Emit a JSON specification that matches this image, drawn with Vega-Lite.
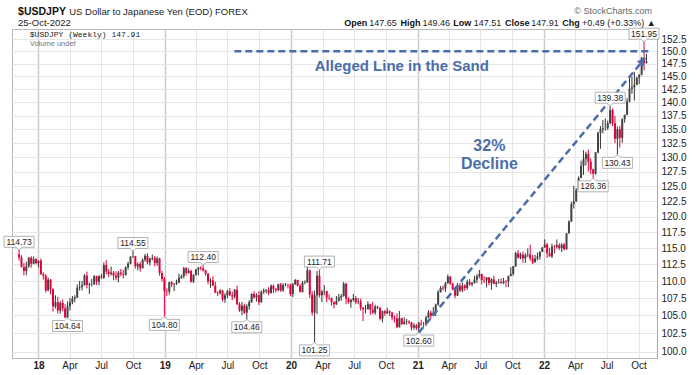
{
"$schema":"https://vega.github.io/schema/vega-lite/v6.json",
"width":645,"height":329,
"autosize":{"type":"none"},
"padding":{"left":12,"top":29,"right":43,"bottom":17},
"background":"#ffffff",
"config":{"font":"Liberation Sans","view":{"stroke":"#b8b8b8","strokeWidth":1}},
"datasets":{
"candles":[
{"d":"2017-11-06","o":114.05,"h":114.73,"l":113.09,"c":113.53},
{"d":"2017-11-13","o":113.53,"h":113.9,"l":112.03,"c":112.1},
{"d":"2017-11-20","o":112.1,"h":112.7,"l":110.84,"c":111.5},
{"d":"2017-11-27","o":111.5,"h":112.9,"l":110.85,"c":112.2},
{"d":"2017-12-04","o":112.2,"h":113.6,"l":112.0,"c":113.5},
{"d":"2017-12-11","o":113.5,"h":113.75,"l":112.0,"c":112.6},
{"d":"2017-12-18","o":112.6,"h":113.7,"l":112.5,"c":113.3},
{"d":"2017-12-25","o":113.3,"h":113.4,"l":112.5,"c":112.7},
{"d":"2018-01-01","o":112.7,"h":113.1,"l":112.05,"c":113.05},
{"d":"2018-01-08","o":113.05,"h":113.4,"l":110.9,"c":111.05},
{"d":"2018-01-15","o":111.05,"h":111.3,"l":110.2,"c":110.8},
{"d":"2018-01-22","o":110.8,"h":111.0,"l":108.28,"c":108.6},
{"d":"2018-01-29","o":108.6,"h":110.5,"l":108.5,"c":110.2},
{"d":"2018-02-05","o":110.2,"h":110.3,"l":108.05,"c":108.8},
{"d":"2018-02-12","o":108.8,"h":108.9,"l":105.55,"c":106.3},
{"d":"2018-02-19","o":106.3,"h":107.9,"l":106.0,"c":106.9},
{"d":"2018-02-26","o":106.9,"h":107.7,"l":105.25,"c":105.7},
{"d":"2018-03-05","o":105.7,"h":107.05,"l":105.25,"c":106.8},
{"d":"2018-03-12","o":106.8,"h":107.3,"l":105.6,"c":106.0},
{"d":"2018-03-19","o":106.0,"h":106.6,"l":104.65,"c":104.7},
{"d":"2018-03-26","o":104.7,"h":107.0,"l":104.64,"c":106.3},
{"d":"2018-04-02","o":106.3,"h":107.5,"l":105.7,"c":106.9},
{"d":"2018-04-09","o":106.9,"h":107.8,"l":106.6,"c":107.4},
{"d":"2018-04-16","o":107.4,"h":107.9,"l":106.9,"c":107.6},
{"d":"2018-04-23","o":107.6,"h":109.5,"l":107.5,"c":109.0},
{"d":"2018-04-30","o":109.0,"h":110.0,"l":108.6,"c":109.1},
{"d":"2018-05-07","o":109.1,"h":110.0,"l":108.6,"c":109.4},
{"d":"2018-05-14","o":109.4,"h":111.05,"l":109.3,"c":110.8},
{"d":"2018-05-21","o":110.8,"h":111.4,"l":108.9,"c":109.4},
{"d":"2018-05-28","o":109.4,"h":109.8,"l":108.1,"c":109.5},
{"d":"2018-06-04","o":109.5,"h":110.3,"l":109.2,"c":109.55},
{"d":"2018-06-11","o":109.55,"h":110.9,"l":109.4,"c":110.7},
{"d":"2018-06-18","o":110.7,"h":110.8,"l":109.4,"c":109.9},
{"d":"2018-06-25","o":109.9,"h":110.9,"l":109.4,"c":110.7},
{"d":"2018-07-02","o":110.7,"h":111.1,"l":110.3,"c":110.5},
{"d":"2018-07-09","o":110.5,"h":112.8,"l":110.3,"c":112.4},
{"d":"2018-07-16","o":112.4,"h":113.18,"l":111.0,"c":111.4},
{"d":"2018-07-23","o":111.4,"h":111.8,"l":110.6,"c":111.05},
{"d":"2018-07-30","o":111.05,"h":112.15,"l":110.8,"c":111.25},
{"d":"2018-08-06","o":111.25,"h":111.5,"l":110.1,"c":110.8},
{"d":"2018-08-13","o":110.8,"h":111.45,"l":110.1,"c":110.5},
{"d":"2018-08-20","o":110.5,"h":111.5,"l":109.8,"c":111.25},
{"d":"2018-08-27","o":111.25,"h":111.8,"l":110.7,"c":111.05},
{"d":"2018-09-03","o":111.05,"h":111.7,"l":110.4,"c":110.95},
{"d":"2018-09-10","o":110.95,"h":112.2,"l":110.8,"c":112.05},
{"d":"2018-09-17","o":112.05,"h":112.9,"l":111.7,"c":112.6},
{"d":"2018-09-24","o":112.6,"h":113.7,"l":112.5,"c":113.7},
{"d":"2018-10-01","o":113.7,"h":114.55,"l":113.5,"c":113.75},
{"d":"2018-10-08","o":113.75,"h":113.8,"l":111.85,"c":112.2},
{"d":"2018-10-15","o":112.2,"h":112.8,"l":111.6,"c":112.55},
{"d":"2018-10-22","o":112.55,"h":112.9,"l":111.38,"c":111.9},
{"d":"2018-10-29","o":111.9,"h":113.4,"l":111.9,"c":113.2},
{"d":"2018-11-05","o":113.2,"h":114.1,"l":112.9,"c":113.8},
{"d":"2018-11-12","o":113.8,"h":114.2,"l":112.5,"c":112.8},
{"d":"2018-11-19","o":112.8,"h":113.5,"l":112.3,"c":113.4},
{"d":"2018-11-26","o":113.4,"h":114.0,"l":113.1,"c":113.5},
{"d":"2018-12-03","o":113.5,"h":113.8,"l":112.2,"c":112.7},
{"d":"2018-12-10","o":112.7,"h":113.7,"l":112.3,"c":113.4},
{"d":"2018-12-17","o":113.4,"h":113.5,"l":110.8,"c":111.2},
{"d":"2018-12-24","o":111.2,"h":111.5,"l":109.9,"c":110.3},
{"d":"2018-12-31","o":110.3,"h":110.6,"l":104.8,"c":108.5},
{"d":"2019-01-07","o":108.5,"h":108.9,"l":107.8,"c":108.45},
{"d":"2019-01-14","o":108.45,"h":109.9,"l":108.0,"c":109.8},
{"d":"2019-01-21","o":109.8,"h":110.0,"l":109.1,"c":109.5},
{"d":"2019-01-28","o":109.5,"h":109.7,"l":108.5,"c":109.55},
{"d":"2019-02-04","o":109.55,"h":110.2,"l":109.4,"c":109.75},
{"d":"2019-02-11","o":109.75,"h":111.1,"l":109.7,"c":110.5},
{"d":"2019-02-18","o":110.5,"h":110.95,"l":110.3,"c":110.7},
{"d":"2019-02-25","o":110.7,"h":112.1,"l":110.4,"c":111.9},
{"d":"2019-03-04","o":111.9,"h":112.1,"l":110.8,"c":111.2},
{"d":"2019-03-11","o":111.2,"h":111.9,"l":111.1,"c":111.5},
{"d":"2019-03-18","o":111.5,"h":111.7,"l":109.75,"c":109.9},
{"d":"2019-03-25","o":109.9,"h":111.0,"l":109.7,"c":110.9},
{"d":"2019-04-01","o":110.9,"h":111.8,"l":110.8,"c":111.7},
{"d":"2019-04-08","o":111.7,"h":112.1,"l":110.85,"c":112.0},
{"d":"2019-04-15","o":112.0,"h":112.2,"l":111.6,"c":111.9},
{"d":"2019-04-22","o":111.9,"h":112.4,"l":111.4,"c":111.6},
{"d":"2019-04-29","o":111.6,"h":111.7,"l":110.8,"c":111.1},
{"d":"2019-05-06","o":111.1,"h":111.2,"l":109.5,"c":109.95},
{"d":"2019-05-13","o":109.95,"h":110.4,"l":109.0,"c":110.1},
{"d":"2019-05-20","o":110.1,"h":110.7,"l":109.3,"c":109.3},
{"d":"2019-05-27","o":109.3,"h":109.9,"l":108.2,"c":108.3},
{"d":"2019-06-03","o":108.3,"h":108.5,"l":107.8,"c":108.2},
{"d":"2019-06-10","o":108.2,"h":108.8,"l":108.0,"c":108.6},
{"d":"2019-06-17","o":108.6,"h":108.7,"l":107.0,"c":107.3},
{"d":"2019-06-24","o":107.3,"h":108.2,"l":106.8,"c":107.9},
{"d":"2019-07-01","o":107.9,"h":108.7,"l":107.5,"c":108.5},
{"d":"2019-07-08","o":108.5,"h":108.95,"l":107.8,"c":107.9},
{"d":"2019-07-15","o":107.9,"h":108.4,"l":107.2,"c":107.7},
{"d":"2019-07-22","o":107.7,"h":108.8,"l":107.4,"c":108.7},
{"d":"2019-07-29","o":108.7,"h":109.3,"l":106.5,"c":106.6},
{"d":"2019-08-05","o":106.6,"h":106.9,"l":105.5,"c":105.7},
{"d":"2019-08-12","o":105.7,"h":106.95,"l":105.05,"c":106.4},
{"d":"2019-08-19","o":106.4,"h":106.7,"l":105.2,"c":105.4},
{"d":"2019-08-26","o":105.4,"h":106.6,"l":104.46,"c":106.3},
{"d":"2019-09-02","o":106.3,"h":107.2,"l":105.8,"c":106.9},
{"d":"2019-09-09","o":106.9,"h":108.2,"l":106.8,"c":108.1},
{"d":"2019-09-16","o":108.1,"h":108.5,"l":107.4,"c":107.6},
{"d":"2019-09-23","o":107.6,"h":108.2,"l":107.0,"c":107.9},
{"d":"2019-09-30","o":107.9,"h":108.5,"l":106.5,"c":106.9},
{"d":"2019-10-07","o":106.9,"h":108.6,"l":106.8,"c":108.4},
{"d":"2019-10-14","o":108.4,"h":108.9,"l":108.1,"c":108.6},
{"d":"2019-10-21","o":108.6,"h":108.8,"l":108.2,"c":108.7},
{"d":"2019-10-28","o":108.7,"h":109.1,"l":107.9,"c":108.2},
{"d":"2019-11-04","o":108.2,"h":109.5,"l":108.2,"c":109.3},
{"d":"2019-11-11","o":109.3,"h":109.5,"l":108.2,"c":108.8},
{"d":"2019-11-18","o":108.8,"h":109.0,"l":108.3,"c":108.65},
{"d":"2019-11-25","o":108.65,"h":109.6,"l":108.5,"c":109.5},
{"d":"2019-12-02","o":109.5,"h":109.7,"l":108.4,"c":108.6},
{"d":"2019-12-09","o":108.6,"h":109.7,"l":108.4,"c":109.4},
{"d":"2019-12-16","o":109.4,"h":109.7,"l":109.2,"c":109.45},
{"d":"2019-12-23","o":109.45,"h":109.6,"l":108.9,"c":109.4},
{"d":"2019-12-30","o":109.4,"h":109.6,"l":107.8,"c":108.1},
{"d":"2020-01-06","o":108.1,"h":109.7,"l":107.65,"c":109.5},
{"d":"2020-01-13","o":109.5,"h":110.3,"l":109.4,"c":110.15},
{"d":"2020-01-20","o":110.15,"h":110.2,"l":109.2,"c":109.3},
{"d":"2020-01-27","o":109.3,"h":109.5,"l":108.3,"c":108.4},
{"d":"2020-02-03","o":108.4,"h":110.0,"l":108.3,"c":109.75},
{"d":"2020-02-10","o":109.75,"h":110.1,"l":109.5,"c":109.8},
{"d":"2020-02-17","o":109.8,"h":112.23,"l":109.7,"c":111.6},
{"d":"2020-02-24","o":111.6,"h":111.7,"l":107.5,"c":108.0},
{"d":"2020-03-02","o":108.0,"h":108.5,"l":105.0,"c":105.4},
{"d":"2020-03-09","o":105.4,"h":108.6,"l":101.25,"c":107.9},
{"d":"2020-03-16","o":107.9,"h":111.5,"l":105.2,"c":110.8},
{"d":"2020-03-23","o":110.8,"h":111.71,"l":107.6,"c":107.9},
{"d":"2020-03-30","o":107.9,"h":108.7,"l":106.9,"c":108.45},
{"d":"2020-04-06","o":108.45,"h":109.4,"l":107.9,"c":108.5},
{"d":"2020-04-13","o":108.5,"h":108.55,"l":106.9,"c":107.55},
{"d":"2020-04-20","o":107.55,"h":108.05,"l":107.2,"c":107.5},
{"d":"2020-04-27","o":107.5,"h":107.6,"l":106.4,"c":106.9},
{"d":"2020-05-04","o":106.9,"h":107.0,"l":106.0,"c":106.6},
{"d":"2020-05-11","o":106.6,"h":107.8,"l":106.5,"c":107.1},
{"d":"2020-05-18","o":107.1,"h":108.1,"l":107.0,"c":107.6},
{"d":"2020-05-25","o":107.6,"h":108.1,"l":107.1,"c":107.8},
{"d":"2020-06-01","o":107.8,"h":109.85,"l":107.7,"c":109.6},
{"d":"2020-06-08","o":109.6,"h":109.7,"l":106.6,"c":107.4},
{"d":"2020-06-15","o":107.4,"h":107.6,"l":106.7,"c":106.9},
{"d":"2020-06-22","o":106.9,"h":107.4,"l":106.1,"c":107.2},
{"d":"2020-06-29","o":107.2,"h":108.1,"l":107.0,"c":107.5},
{"d":"2020-07-06","o":107.5,"h":107.8,"l":106.6,"c":106.9},
{"d":"2020-07-13","o":106.9,"h":107.5,"l":106.6,"c":107.0},
{"d":"2020-07-20","o":107.0,"h":107.4,"l":105.7,"c":106.1},
{"d":"2020-07-27","o":106.1,"h":106.2,"l":104.2,"c":105.9},
{"d":"2020-08-03","o":105.9,"h":106.5,"l":105.3,"c":105.95},
{"d":"2020-08-10","o":105.95,"h":107.05,"l":105.8,"c":106.6},
{"d":"2020-08-17","o":106.6,"h":106.7,"l":105.1,"c":105.8},
{"d":"2020-08-24","o":105.8,"h":106.95,"l":105.2,"c":105.4},
{"d":"2020-08-31","o":105.4,"h":106.55,"l":105.1,"c":106.25},
{"d":"2020-09-07","o":106.25,"h":106.4,"l":105.9,"c":106.1},
{"d":"2020-09-14","o":106.1,"h":106.15,"l":104.3,"c":104.55},
{"d":"2020-09-21","o":104.55,"h":105.7,"l":104.0,"c":105.6},
{"d":"2020-09-28","o":105.6,"h":105.8,"l":104.95,"c":105.3},
{"d":"2020-10-05","o":105.3,"h":106.1,"l":105.2,"c":105.6},
{"d":"2020-10-12","o":105.6,"h":105.75,"l":104.9,"c":105.4},
{"d":"2020-10-19","o":105.4,"h":105.5,"l":104.3,"c":104.7},
{"d":"2020-10-26","o":104.7,"h":105.0,"l":104.0,"c":104.6},
{"d":"2020-11-02","o":104.6,"h":105.3,"l":103.2,"c":103.35},
{"d":"2020-11-09","o":103.35,"h":105.65,"l":103.3,"c":104.6},
{"d":"2020-11-16","o":104.6,"h":104.7,"l":103.65,"c":103.8},
{"d":"2020-11-23","o":103.8,"h":104.75,"l":103.7,"c":104.1},
{"d":"2020-11-30","o":104.1,"h":104.5,"l":103.7,"c":104.15},
{"d":"2020-12-07","o":104.15,"h":104.3,"l":103.8,"c":104.0},
{"d":"2020-12-14","o":104.0,"h":104.1,"l":102.9,"c":103.3},
{"d":"2020-12-21","o":103.3,"h":103.9,"l":103.0,"c":103.6},
{"d":"2020-12-28","o":103.6,"h":103.8,"l":102.95,"c":103.25},
{"d":"2021-01-04","o":103.25,"h":104.1,"l":102.6,"c":103.95},
{"d":"2021-01-11","o":103.95,"h":104.4,"l":103.5,"c":103.85},
{"d":"2021-01-18","o":103.85,"h":104.1,"l":103.3,"c":103.8},
{"d":"2021-01-25","o":103.8,"h":104.95,"l":103.5,"c":104.7},
{"d":"2021-02-01","o":104.7,"h":105.75,"l":104.6,"c":105.4},
{"d":"2021-02-08","o":105.4,"h":105.7,"l":104.5,"c":104.95},
{"d":"2021-02-15","o":104.95,"h":106.2,"l":104.9,"c":105.4},
{"d":"2021-02-22","o":105.4,"h":106.7,"l":104.9,"c":106.55},
{"d":"2021-03-01","o":106.55,"h":108.65,"l":106.4,"c":108.35},
{"d":"2021-03-08","o":108.35,"h":109.25,"l":108.3,"c":109.0},
{"d":"2021-03-15","o":109.0,"h":109.35,"l":108.6,"c":108.9},
{"d":"2021-03-22","o":108.9,"h":109.85,"l":108.4,"c":109.65},
{"d":"2021-03-29","o":109.65,"h":110.97,"l":109.6,"c":110.65},
{"d":"2021-04-05","o":110.65,"h":110.7,"l":109.4,"c":109.65},
{"d":"2021-04-12","o":109.65,"h":109.75,"l":108.6,"c":108.8},
{"d":"2021-04-19","o":108.8,"h":108.95,"l":107.48,"c":107.85},
{"d":"2021-04-26","o":107.85,"h":109.7,"l":107.8,"c":109.3},
{"d":"2021-05-03","o":109.3,"h":109.7,"l":108.35,"c":108.6},
{"d":"2021-05-10","o":108.6,"h":109.8,"l":108.35,"c":109.35},
{"d":"2021-05-17","o":109.35,"h":109.5,"l":108.55,"c":108.95},
{"d":"2021-05-24","o":108.95,"h":110.2,"l":108.7,"c":109.85},
{"d":"2021-05-31","o":109.85,"h":110.3,"l":109.3,"c":109.5},
{"d":"2021-06-07","o":109.5,"h":109.85,"l":109.2,"c":109.7},
{"d":"2021-06-14","o":109.7,"h":110.8,"l":109.6,"c":110.2},
{"d":"2021-06-21","o":110.2,"h":111.0,"l":109.7,"c":110.75},
{"d":"2021-06-28","o":110.75,"h":111.66,"l":110.4,"c":111.05},
{"d":"2021-07-05","o":111.05,"h":111.1,"l":109.5,"c":110.15},
{"d":"2021-07-12","o":110.15,"h":110.7,"l":109.7,"c":110.1},
{"d":"2021-07-19","o":110.1,"h":110.6,"l":109.05,"c":110.55},
{"d":"2021-07-26","o":110.55,"h":110.6,"l":109.35,"c":109.7},
{"d":"2021-08-02","o":109.7,"h":110.4,"l":108.7,"c":110.25},
{"d":"2021-08-09","o":110.25,"h":110.8,"l":109.5,"c":109.6},
{"d":"2021-08-16","o":109.6,"h":110.0,"l":109.1,"c":109.8},
{"d":"2021-08-23","o":109.8,"h":110.3,"l":109.6,"c":109.85},
{"d":"2021-08-30","o":109.85,"h":110.4,"l":109.6,"c":109.7},
{"d":"2021-09-06","o":109.7,"h":110.45,"l":109.55,"c":109.95},
{"d":"2021-09-13","o":109.95,"h":110.15,"l":109.1,"c":109.9},
{"d":"2021-09-20","o":109.9,"h":110.8,"l":109.1,"c":110.75},
{"d":"2021-09-27","o":110.75,"h":112.08,"l":110.7,"c":111.05},
{"d":"2021-10-04","o":111.05,"h":112.25,"l":110.8,"c":112.2},
{"d":"2021-10-11","o":112.2,"h":114.45,"l":112.1,"c":114.2},
{"d":"2021-10-18","o":114.2,"h":114.7,"l":113.4,"c":113.5},
{"d":"2021-10-25","o":113.5,"h":114.3,"l":113.3,"c":114.0},
{"d":"2021-11-01","o":114.0,"h":114.45,"l":112.75,"c":113.4},
{"d":"2021-11-08","o":113.4,"h":114.2,"l":112.7,"c":113.9},
{"d":"2021-11-15","o":113.9,"h":114.95,"l":113.6,"c":114.0},
{"d":"2021-11-22","o":114.0,"h":115.52,"l":113.05,"c":113.4},
{"d":"2021-11-29","o":113.4,"h":113.95,"l":112.55,"c":112.8},
{"d":"2021-12-06","o":112.8,"h":113.95,"l":112.8,"c":113.4},
{"d":"2021-12-13","o":113.4,"h":114.3,"l":113.1,"c":113.7},
{"d":"2021-12-20","o":113.7,"h":114.5,"l":113.2,"c":114.4},
{"d":"2021-12-27","o":114.4,"h":115.15,"l":114.4,"c":115.1},
{"d":"2022-01-03","o":115.1,"h":116.35,"l":115.05,"c":115.55},
{"d":"2022-01-10","o":115.55,"h":115.85,"l":113.5,"c":114.2},
{"d":"2022-01-17","o":114.2,"h":115.05,"l":113.7,"c":113.7},
{"d":"2022-01-24","o":113.7,"h":115.7,"l":113.47,"c":115.25},
{"d":"2022-01-31","o":115.25,"h":115.5,"l":114.15,"c":115.2},
{"d":"2022-02-07","o":115.2,"h":116.35,"l":114.9,"c":115.45},
{"d":"2022-02-14","o":115.45,"h":115.75,"l":114.7,"c":115.0},
{"d":"2022-02-21","o":115.0,"h":115.75,"l":114.4,"c":115.55},
{"d":"2022-02-28","o":115.55,"h":115.8,"l":114.65,"c":114.8},
{"d":"2022-03-07","o":114.8,"h":117.35,"l":114.8,"c":117.3},
{"d":"2022-03-14","o":117.3,"h":119.4,"l":117.3,"c":119.2},
{"d":"2022-03-21","o":119.2,"h":122.4,"l":119.1,"c":122.05},
{"d":"2022-03-28","o":122.05,"h":125.1,"l":121.3,"c":122.5},
{"d":"2022-04-04","o":122.5,"h":124.7,"l":122.4,"c":124.35},
{"d":"2022-04-11","o":124.35,"h":126.7,"l":124.3,"c":126.4},
{"d":"2022-04-18","o":126.4,"h":129.4,"l":126.4,"c":128.5},
{"d":"2022-04-25","o":128.5,"h":131.25,"l":126.95,"c":129.7},
{"d":"2022-05-02","o":129.7,"h":131.0,"l":128.6,"c":130.6},
{"d":"2022-05-09","o":130.6,"h":131.35,"l":127.5,"c":129.2},
{"d":"2022-05-16","o":129.2,"h":129.8,"l":127.05,"c":127.9},
{"d":"2022-05-23","o":127.9,"h":128.0,"l":126.36,"c":127.15},
{"d":"2022-05-30","o":127.15,"h":130.95,"l":127.0,"c":130.85},
{"d":"2022-06-06","o":130.85,"h":134.55,"l":130.7,"c":134.4},
{"d":"2022-06-13","o":134.4,"h":135.6,"l":131.5,"c":135.0},
{"d":"2022-06-20","o":135.0,"h":136.7,"l":134.25,"c":135.2},
{"d":"2022-06-27","o":135.2,"h":137.0,"l":134.75,"c":135.2},
{"d":"2022-07-04","o":135.2,"h":136.6,"l":134.9,"c":136.1},
{"d":"2022-07-11","o":136.1,"h":139.38,"l":135.95,"c":138.55},
{"d":"2022-07-18","o":138.55,"h":138.85,"l":135.6,"c":136.1},
{"d":"2022-07-25","o":136.1,"h":137.45,"l":132.5,"c":133.3},
{"d":"2022-08-01","o":133.3,"h":135.5,"l":130.43,"c":135.0},
{"d":"2022-08-08","o":135.0,"h":135.6,"l":131.7,"c":133.45},
{"d":"2022-08-15","o":133.45,"h":137.0,"l":132.55,"c":136.9},
{"d":"2022-08-22","o":136.9,"h":137.7,"l":136.2,"c":137.65},
{"d":"2022-08-29","o":137.65,"h":140.8,"l":137.6,"c":140.2},
{"d":"2022-09-05","o":140.2,"h":144.99,"l":140.0,"c":142.6},
{"d":"2022-09-12","o":142.6,"h":144.95,"l":141.65,"c":142.9},
{"d":"2022-09-19","o":142.9,"h":145.9,"l":140.35,"c":143.35},
{"d":"2022-09-26","o":143.35,"h":144.9,"l":143.3,"c":144.75},
{"d":"2022-10-03","o":144.75,"h":145.45,"l":143.5,"c":145.3},
{"d":"2022-10-10","o":145.3,"h":148.86,"l":145.2,"c":148.7},
{"d":"2022-10-17","o":148.7,"h":151.95,"l":146.23,"c":147.65},
{"d":"2022-10-24","o":147.65,"h":149.46,"l":147.51,"c":147.91}
],
"hiLabels":[
{"d":"2017-11-06","p":114.73,"t":"114.73"},
{"d":"2018-10-01","p":114.55,"t":"114.55"},
{"d":"2019-04-22","p":112.4,"t":"112.40"},
{"d":"2020-03-23","p":111.71,"t":"111.71"},
{"d":"2022-07-11","p":139.38,"t":"139.38"},
{"d":"2022-10-17","p":151.95,"t":"151.95"}
],
"loLabels":[
{"d":"2018-03-26","p":104.64,"t":"104.64"},
{"d":"2018-12-31","p":104.8,"t":"104.80"},
{"d":"2019-08-26","p":104.46,"t":"104.46"},
{"d":"2020-03-09","p":101.25,"t":"101.25"},
{"d":"2021-01-04","p":102.6,"t":"102.60"},
{"d":"2022-05-23","p":126.36,"t":"126.36"},
{"d":"2022-08-01","p":130.43,"t":"130.43"}
]
},
"encoding":{
 "x":{"field":"d","type":"temporal","title":null,
  "scale":{"type":"utc","domain":[1509408000000,1667952000000]},
  "axis":{"title":null,
   "values":[1514764800000,1522540800000,1530403200000,1538352000000,1546300800000,1554076800000,1561939200000,1569888000000,1577836800000,1585699200000,1593561600000,1601510400000,1609459200000,1617235200000,1625097600000,1633046400000,1640995200000,1648771200000,1656633600000,1664582400000],
   "labelExpr":"utcmonth(datum.value)==0 ? utcFormat(datum.value,'%y') : utcFormat(datum.value,'%b')",
   "labelFontWeight":{"condition":{"test":"utcmonth(datum.value)==0","value":"bold"},"value":"normal"},
   "labelFontSize":10,"labelColor":"#222222","labelPadding":2,"ticks":false,
   "domain":true,"domainColor":"#b8b8b8",
   "grid":true,
   "gridColor":{"condition":{"test":"utcmonth(datum.value)==0","value":"#cccccc"},"value":"#e6e6e6"},
   "gridWidth":{"condition":{"test":"utcmonth(datum.value)==0","value":1.5},"value":1},
   "labelOverlap":false,"labelFlush":false}}
},
"layer":[
{"data":{"name":"candles"},
 "mark":{"type":"rule","strokeWidth":1},
 "encoding":{
  "y":{"field":"l","type":"quantitative","title":null,
   "scale":{"type":"log","domain":[99.14,154.58],"nice":false,"zero":false},
   "axis":{"orient":"right","title":null,
    "values":[100,102.5,105,107.5,110,112.5,115,117.5,120,122.5,125,127.5,130,132.5,135,137.5,140,142.5,145,147.5,150,152.5],
    "format":".1f","labelFontSize":10,"labelColor":"#222222","labelPadding":4,"ticks":false,
    "domain":true,"domainColor":"#999999","domainDash":[1,1],
    "grid":true,"gridColor":"#e6e6e6","labelOverlap":false,"labelFlush":false}},
  "y2":{"field":"h"},
  "color":{"condition":{"test":"datum.c < datum.o","value":"#e4003b"},"value":"#333333"}
 }},
{"data":{"name":"candles"},
 "mark":{"type":"bar","size":2},
 "encoding":{
  "y":{"field":"o","type":"quantitative","title":null},
  "y2":{"field":"c"},
  "color":{"condition":{"test":"datum.c < datum.o","value":"#e4003b"},"value":"#444444"}
 }},
{"data":{"values":[{"d":"2019-07-21","p":150},{"d":"2022-11-03","p":150}]},
 "mark":{"type":"line","color":"#4b6ea9","strokeWidth":2.5,"strokeDash":[7,4]},
 "encoding":{"y":{"field":"p","type":"quantitative","title":null}}},
{"data":{"values":[{"d":"2021-01-04","p":102.6},{"d":"2022-10-20","p":148.65}]},
 "mark":{"type":"line","color":"#4b6ea9","strokeWidth":2.5,"strokeDash":[7,4]},
 "encoding":{"y":{"field":"p","type":"quantitative","title":null}}},
{"data":{"values":[{"d":"2022-10-12","p":148.0}]},
 "mark":{"type":"point","shape":"triangle-up","angle":40,"size":70,"filled":true,"color":"#4b6ea9","opacity":1},
 "encoding":{"y":{"field":"p","type":"quantitative","title":null}}},
{"data":{"values":[{"d":"2020-11-16","p":147.05,"t":"Alleged Line in the Sand"}]},
 "mark":{"type":"text","font":"Liberation Sans","fontSize":15,"fontWeight":"bold","color":"#4b6ea9","align":"center","baseline":"middle"},
 "encoding":{"y":{"field":"p","type":"quantitative","title":null},"text":{"field":"t"}}},
{"data":{"values":[{"d":"2021-07-27","p":131.99,"t":"32%\nDecline"}]},
 "mark":{"type":"text","font":"Liberation Sans","fontSize":16,"fontWeight":"bold","color":"#4b6ea9","align":"center","baseline":"middle","lineBreak":"\n","lineHeight":18},
 "encoding":{"y":{"field":"p","type":"quantitative","title":null},"text":{"field":"t"}}},
{"data":{"name":"hiLabels"},
 "mark":{"type":"point","shape":"M-1,-0.9H1V-0.167H0.2L0,0L-0.2,-0.167H-1Z","size":900,"filled":true,"fill":"#ffffff","stroke":"#a0a0a0","strokeWidth":0.8,"opacity":1,"fillOpacity":1,"strokeOpacity":1},
 "encoding":{"y":{"field":"p","type":"quantitative","title":null}}},
{"data":{"name":"hiLabels"},
 "mark":{"type":"text","font":"Liberation Sans","fontSize":8.5,"color":"#222222","align":"center","baseline":"middle","dy":-8},
 "encoding":{"y":{"field":"p","type":"quantitative","title":null},"text":{"field":"t"}}},
{"data":{"name":"loLabels"},
 "mark":{"type":"point","shape":"M-1,0.9H1V0.167H0.2L0,0L-0.2,0.167H-1Z","size":900,"filled":true,"fill":"#ffffff","stroke":"#a0a0a0","strokeWidth":0.8,"opacity":1,"fillOpacity":1,"strokeOpacity":1},
 "encoding":{"y":{"field":"p","type":"quantitative","title":null}}},
{"data":{"name":"loLabels"},
 "mark":{"type":"text","font":"Liberation Sans","fontSize":8.5,"color":"#222222","align":"center","baseline":"middle","dy":8},
 "encoding":{"y":{"field":"p","type":"quantitative","title":null},"text":{"field":"t"}}},
{"data":{"values":[{"d":"2017-11-03","p":157.53,"t":"$USDJPY"}]},
 "mark":{"type":"text","font":"Liberation Sans","fontSize":10.5,"fontWeight":"bold","color":"#111111","align":"left","baseline":"alphabetic"},
 "encoding":{"y":{"field":"p","type":"quantitative","title":null},"text":{"field":"t"}}},
{"data":{"values":[{"d":"2018-03-31","p":157.53,"t":"US Dollar to Japanese Yen (EOD) FOREX"},{"d":"2017-11-03","p":155.31,"t":"25-Oct-2022"}]},
 "mark":{"type":"text","font":"Liberation Sans","fontSize":9.5,"color":"#222222","align":"left","baseline":"alphabetic"},
 "encoding":{"y":{"field":"p","type":"quantitative","title":null},"text":{"field":"t"}}},
{"data":{"values":[{"d":"2020-06-03","p":155.21,"t":"Open"},{"d":"2020-11-12","p":155.21,"t":"High"},{"d":"2021-04-14","p":155.21,"t":"Low"},{"d":"2021-09-10","p":155.21,"t":"Close"},{"d":"2022-02-23","p":155.21,"t":"Chg"}]},
 "mark":{"type":"text","font":"Liberation Sans","fontSize":9,"fontWeight":"bold","color":"#111111","align":"left","baseline":"alphabetic"},
 "encoding":{"y":{"field":"p","type":"quantitative","title":null},"text":{"field":"t"}}},
{"data":{"values":[{"d":"2020-08-14","p":155.21,"t":"147.65"},{"d":"2021-01-15","p":155.21,"t":"149.46"},{"d":"2021-06-12","p":155.21,"t":"147.51"},{"d":"2021-11-25","p":155.21,"t":"147.91"},{"d":"2022-04-21","p":155.21,"t":"+0.49 (+0.33%) ▲"}]},
 "mark":{"type":"text","font":"Liberation Sans","fontSize":9,"color":"#222222","align":"left","baseline":"alphabetic"},
 "encoding":{"y":{"field":"p","type":"quantitative","title":null},"text":{"field":"t"}}},
{"data":{"values":[{"d":"2022-11-09","p":157.69,"t":"© StockCharts.com"}]},
 "mark":{"type":"text","font":"Liberation Sans","fontSize":9,"color":"#666666","align":"right","baseline":"alphabetic"},
 "encoding":{"y":{"field":"p","type":"quantitative","title":null},"text":{"field":"t"}}},
{"data":{"values":[{"d":"2017-12-07","p":152.92,"t":"$USDJPY (Weekly) 147.91"}]},
 "mark":{"type":"text","font":"Liberation Mono","fontSize":8,"color":"#222222","align":"left","baseline":"alphabetic"},
 "encoding":{"y":{"field":"p","type":"quantitative","title":null},"text":{"field":"t"}}},
{"data":{"values":[{"d":"2017-12-07","p":151.05,"t":"Volume undef"}]},
 "mark":{"type":"text","font":"Liberation Sans","fontSize":7.5,"color":"#777777","align":"left","baseline":"alphabetic"},
 "encoding":{"y":{"field":"p","type":"quantitative","title":null},"text":{"field":"t"}}}
]
}
